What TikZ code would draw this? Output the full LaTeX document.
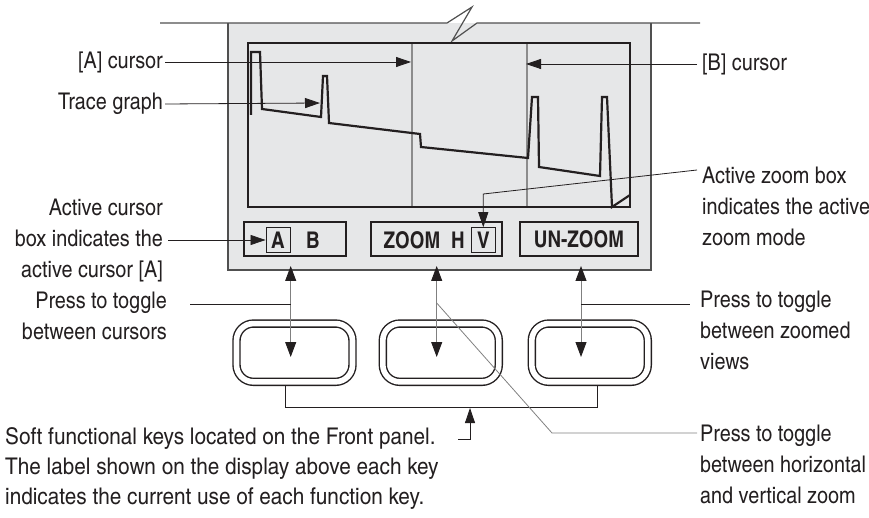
\documentclass[tikz,border=0pt]{standalone}
\usepackage{fontspec}
\setmainfont{texgyreheroscn}[Extension=.otf,UprightFont=*-regular,BoldFont=*-bold]
\newfontfamily\lblfont{texgyreheroscn}[Extension=.otf,UprightFont=*-regular,FakeStretch=1.05]
\newfontfamily\widelblfont{texgyreheroscn}[Extension=.otf,UprightFont=*-regular,FakeStretch=1.1]
\usetikzlibrary{arrows.meta}
\definecolor{panelgray}{RGB}{230,231,232}
\definecolor{edgegray}{RGB}{80,80,80}
\definecolor{cursorgray}{RGB}{140,140,140}
\definecolor{inkblack}{RGB}{35,31,32}

\begin{document}
\begin{tikzpicture}[x=1pt,y=-1pt,
  lbl/.style={inner sep=0pt,text=inkblack,font=\lblfont\fontsize{23}{31}\selectfont},
  btn/.style={draw=inkblack,line width=2.4pt,minimum height=34pt,inner sep=0pt},
  btnlbl/.style={inner sep=0pt,text=inkblack,font=\bfseries\fontsize{23}{23}\selectfont},
  selbox/.style={btnlbl,draw=inkblack,line width=0.9pt,minimum width=24pt,minimum height=24.6pt},
  softkey/.style={draw=inkblack,line width=1.4pt,double,double distance=5.6pt,rounded corners=17pt,minimum width=116pt,minimum height=58.3pt},
  callout/.style={draw=inkblack,line width=0.8pt},
  pointer/.style={-{Triangle[length=15pt,width=10pt]}},
  keyarrow/.style={draw=gray,line width=1pt,{Triangle[length=15pt,width=11pt,color=inkblack]}-{Triangle[length=15pt,width=11pt,color=inkblack]}}]
\useasboundingbox (0,0) rectangle (869,518);

% front panel with broken top edge
\fill[panelgray] (228,23) rectangle (651,270);
\draw[edgegray,line width=2pt] (228,23) -- (228,270) -- (651,270) -- (651,23);
\draw[edgegray,line width=1.2pt] (160,23) -- (447,23) -- (472,7) -- (452,41) -- (477,23) -- (700,23);

% display with cursors and trace
\draw[cursorgray,line width=2.2pt] (412,43) coordinate (curAtop) -- (412,207);
\draw[cursorgray,line width=2.2pt] (527,43) coordinate (curBtop) -- (527,207);
\draw[inkblack,line width=2.6pt] (248,43) rectangle (630,207);
\draw[inkblack,line width=2.2pt] (251,115) -- (251,52) -- (260,52) -- (262,109) -- (321,117)
  -- (323,76) -- (327,76) -- (329,123) -- (420,134) -- (421,147) -- (528,158)
  -- (532,97) -- (538,97) -- (539,167) -- (600,176) -- (602,97) -- (607,97)
  -- (612,207) -- (630,195);

% soft key labels on the display
\node[btn,minimum width=102pt] (btnAB) at (295,239) {};
\node[btn,minimum width=131pt] (btnZ) at (436.4,239) {};
\node[btn,minimum width=118pt] (btnU) at (579,239) {};
\node[selbox] (selA) at (278,240) {A};
\node[btnlbl] (labB) at (313,240) {B};
\node[btnlbl] (labZoom) at (412,240) {ZOOM};
\node[btnlbl] (labH) at (458,240) {H};
\node[selbox] (selV) at (483.3,240) {V};
\node[btnlbl] (labU) at (btnU) {UN-ZOOM};

% soft keys
\node[softkey] (key1) at (294.5,352.7) {};
\node[softkey] (key2) at (440.8,352.7) {};
\node[softkey] (key3) at (589.8,352.7) {};
\coordinate (k1a) at (290.7,266); \coordinate (k1b) at (290.7,357);
\coordinate (k2a) at (436.7,266); \coordinate (k2b) at (436.7,357);
\coordinate (k3a) at (581,266);   \coordinate (k3b) at (581,357);
\draw[keyarrow] (k1a) -- (k1b);
\draw[keyarrow] (k2a) -- (k2b);
\draw[keyarrow] (k3a) -- (k3b);
\draw[callout] (285,386) -- (285,407) coordinate (brL) -- (597,407) coordinate (brR) -- (597,386);

% left labels
\node[lbl,anchor=east] (lblA) at (163,62) {[A] cursor};
\node[lbl,anchor=east] (lblTrace) at (163,104) {Trace graph};
\node[lbl,anchor=east,align=right] (lblActA) at (163,240) {Active cursor\\box indicates the\\active cursor [A]};
\node[lbl,anchor=east,align=right] (lblCur) at (167,316) {Press to toggle\\between cursors};
\node[lbl,font=\widelblfont\fontsize{23}{30}\selectfont,anchor=west,align=left] (lblSoft) at (5,468) {Soft functional keys located on the Front panel.\\The label shown on the display above each key\\indicates the current use of each function key.};

% right labels
\node[lbl,anchor=west] (lblB) at (702,64) {[B] cursor};
\node[lbl,anchor=west,align=left] (lblActZ) at (702,206) {Active zoom box\\indicates the active\\zoom mode};
\node[lbl,anchor=west,align=left] (lblViews) at (700,330) {Press to toggle\\between zoomed\\views};
\node[lbl,anchor=west,align=left] (lblHV) at (700,464) {Press to toggle\\between horizontal\\and vertical zoom};

% callouts
\draw[callout,pointer] (lblA.east) ++(2,0) -- (411,62);
\draw[callout,pointer] (lblTrace.east) ++(2,0) -- (320,103);
\draw[callout,pointer] (lblB.west) ++(-5,0) -- (526,64);
\draw[callout,pointer] (168,240) -- (selA.west);
\draw[callout,pointer] (697,170) -- (483.3,194) -- (selV.north);
\draw[callout] (190,304) -- (k1a |- 0,304);
\draw[callout] (k3a |- 0,304) -- (690,304);
\draw[gray,line width=0.8pt] (k2a |- 0,303) -- (552,433) -- (697,433);
\draw[callout,pointer] (458,439) -- (470,439) -- (470,408);
\end{tikzpicture}
\end{document}
